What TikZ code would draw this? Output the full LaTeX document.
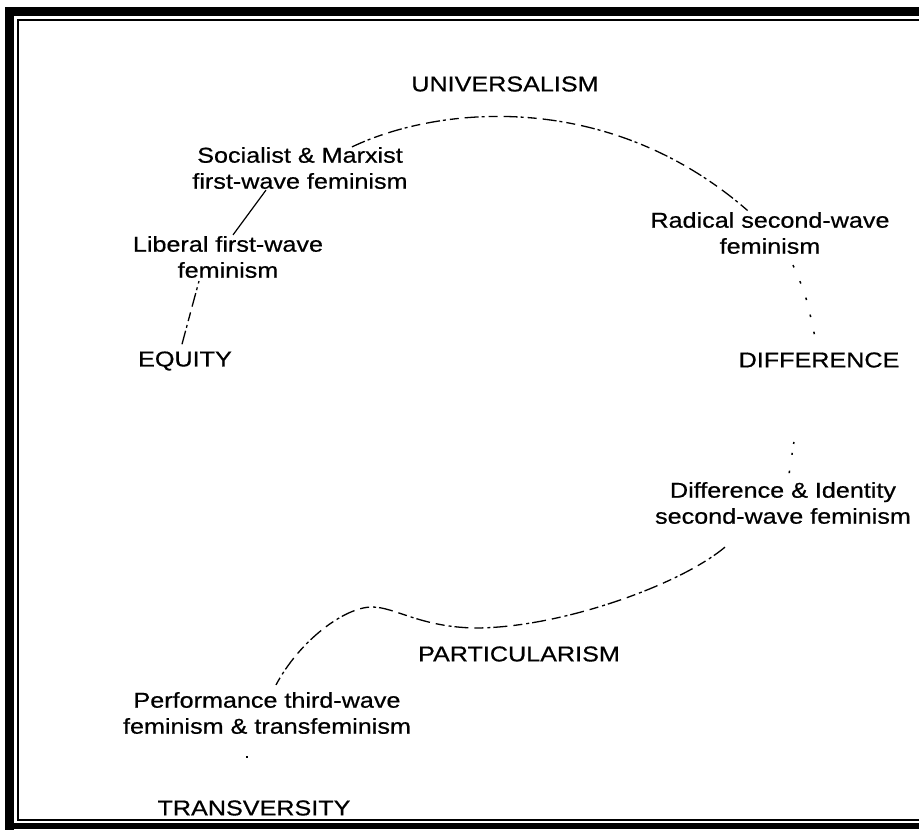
\documentclass[tikz,border=0pt]{standalone}
\usepackage{fontspec}
\setmainfont{Liberation Sans}[FakeStretch=1.17,FakeBold=0.6]
\begin{document}
\begin{tikzpicture}[x=1pt,y=-1pt,
  lab/.style={align=center, font=\fontsize{21.5}{26}\selectfont, inner sep=1pt},
  curve/.style={line width=1.3pt, dash pattern=on 14pt off 3pt on 3pt off 4pt on 9pt off 6pt},
  dots/.style={line width=1.5pt, dash pattern=on 2.5pt off 15pt}]
\useasboundingbox (0,0) rectangle (919,830);
\fill[white] (0,0) rectangle (919,830);
% frame
\draw[line width=9pt] (9.5,935) -- (9.5,11) -- (935,11);
\draw[line width=6pt] (5,826) -- (935,826);
\draw[line width=1.5pt] (935,20) -- (18,20) -- (18,820) -- (935,820);
% labels
\node[lab] (univ) at (505,84) {UNIVERSALISM};
\node[lab] (soc) at (300,168) {Socialist \& Marxist\\first-wave feminism};
\node[lab] (lib) at (228,257) {Liberal first-wave\\feminism};
\node[lab] (equ) at (185,361) {EQUITY};
\node[lab] (rad) at (770,233) {Radical second-wave\\feminism};
\node[lab] (dif) at (819,360) {DIFFERENCE};
\node[lab] (did) at (783,503) {Difference \& Identity\\second-wave feminism};
\node[lab] (par) at (519,654) {PARTICULARISM};
\node[lab] (perf) at (267,713) {Performance third-wave\\feminism \& transfeminism};
\node[lab] (trans) at (254,808) {TRANSVERSITY};
% connectors
\draw[curve] ([xshift=-3pt,yshift=6pt]equ.north) .. controls (189,318) .. ([xshift=-29pt,yshift=-2pt]lib.south);
\draw[line width=1.2pt] ([xshift=5pt]lib.north) -- ([xshift=-34pt]soc.south);
\draw[curve] ([xshift=52pt,yshift=-1pt]soc.north) .. controls (440,105) and (610,90) .. ([xshift=-22pt]rad.north);
\draw[dots] ([xshift=23pt,yshift=-10pt]rad.south) .. controls (806,295) .. ([xshift=-4pt,yshift=14pt]dif.north);
\draw[line width=1.5pt, dash pattern=on 0pt off 74pt on 2pt off 9pt on 2pt off 16pt on 2.5pt off 100pt]
  ([xshift=-14pt]dif.south) -- ([xshift=5pt]did.north);
\draw[curve] ([xshift=-58pt,yshift=-22pt]did.south) .. controls (680,585) and (560,628) .. (475,628)
  .. controls (420,627) and (395,607) .. (372,607)
  .. controls (345,607) and (300,640) .. ([xshift=9pt,yshift=6pt]perf.north);
\draw[line width=1.5pt, dash pattern=on 0pt off 21pt on 2pt off 100pt]
  ([xshift=-20pt]perf.south) -- ([xshift=-7pt]trans.north);
\end{tikzpicture}
\end{document}
